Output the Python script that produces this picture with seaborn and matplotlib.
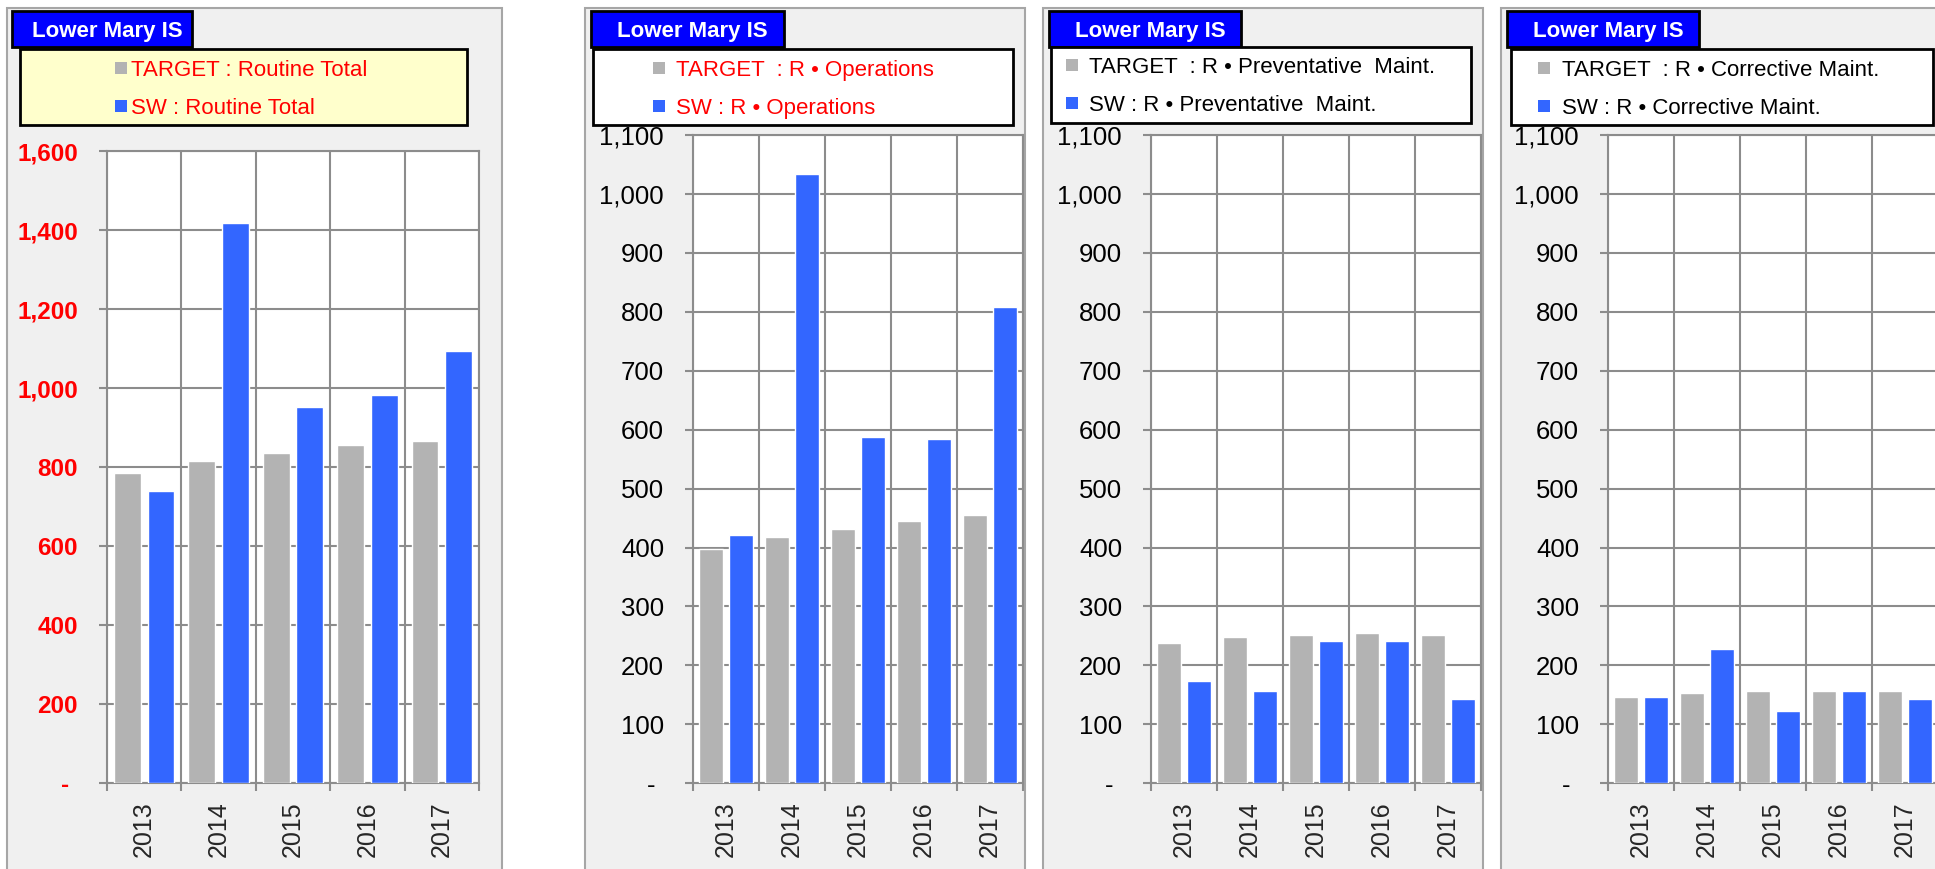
import numpy as np
import pandas as pd
import seaborn as sns
import matplotlib as mpl
from matplotlib import pyplot as plt
from matplotlib.patches import Rectangle
from matplotlib.ticker import FuncFormatter, FixedLocator
from matplotlib.transforms import ScaledTranslation

years = ['2013', '2014', '2015', '2016', '2017']
series_names = ['TARGET', 'SW']

routine_target = [785, 816, 836, 856, 866]
routine_sw = [740, 1417, 953, 982, 1094]
ops_target = [397, 418, 431, 445, 455]
ops_sw = [421, 1034, 587, 584, 808]
prev_target = [238, 248, 252, 255, 252]
prev_sw = [174, 157, 242, 242, 143]
corr_target = [147, 153, 157, 157, 157]
corr_sw = [147, 228, 123, 157, 143]

panel_title = 'Lower Mary IS'
legend_labels = [
    ('TARGET : Routine Total', 'SW : Routine Total'),
    ('TARGET  : R \u2022 Operations', 'SW : R \u2022 Operations'),
    ('TARGET  : R \u2022 Preventative  Maint.', 'SW : R \u2022 Preventative  Maint.'),
    ('TARGET  : R \u2022 Corrective Maint.', 'SW : R \u2022 Corrective Maint.'),
]
values = [(routine_target, routine_sw), (ops_target, ops_sw),
          (prev_target, prev_sw), (corr_target, corr_sw)]

GRAY = '#b3b3b3'
BLUE = '#3366ff'
GRID = '#8c8c8c'

sns.set_style('white')
plt.rcParams['font.family'] = ['Liberation Sans', 'DejaVu Sans']

W, H = 1935, 869
fig = plt.figure(figsize=(W / 100, H / 100), dpi=100)
fig.patch.set_facecolor('white')


def fx(px):
    return px / W


def fy(py):
    return 1 - py / H


def box(x0, y0, x1, y1, fc, ec, lw=1.5, z=0):
    r = Rectangle((fx(x0), fy(y1)), fx(x1) - fx(x0), fy(y0) - fy(y1),
                  transform=fig.transFigure, facecolor=fc, edgecolor=ec,
                  linewidth=lw, zorder=z)
    fig.add_artist(r)


# layout of each panel (pixels): outer box, plot area, title box, legend box
layout = [
    dict(outer=(7, 502), plot=(107, 479, 151), title=(12, 192), leg=(20, 467, 49, 125),
         mark=115, txt=131, rows=(68, 106), ymax=1600, step=200, legbg='#ffffcc',
         legcol='red', tcol='red', bold=True, tsize=17.5),
    dict(outer=(585, 1025), plot=(693, 1023, 135), title=(591, 784), leg=(593, 1013, 49, 125),
         mark=653, txt=676, rows=(68, 106), ymax=1100, step=100, legbg='white',
         legcol='red', tcol='black', bold=False, tsize=18.5),
    dict(outer=(1043, 1483), plot=(1151, 1481, 135), title=(1049, 1241), leg=(1051, 1471, 47, 123),
         mark=1066, txt=1089, rows=(65, 103), ymax=1100, step=100, legbg='white',
         legcol='black', tcol='black', bold=False, tsize=18.5),
    dict(outer=(1501, 1945), plot=(1608, 1938, 135), title=(1507, 1699), leg=(1511, 1933, 49, 125),
         mark=1538, txt=1562, rows=(68, 106), ymax=1100, step=100, legbg='white',
         legcol='black', tcol='black', bold=False, tsize=18.5),
]
zero_y = 783.3

for (tgt, sw), labels, lay in zip(values, legend_labels, layout):
    ox0, ox1 = lay['outer']
    box(ox0, 8, ox1, 880, '#f0f0f0', '#a6a6a6', z=-2)

    px0, px1, ptop = lay['plot']
    ax = fig.add_axes([fx(px0), fy(zero_y), fx(px1) - fx(px0), fy(ptop) - fy(zero_y)])
    ax.set_facecolor('white')

    df = pd.DataFrame({
        'year': years * 2,
        'value': list(tgt) + list(sw),
        'series': [series_names[0]] * len(years) + [series_names[1]] * len(years),
    })
    sns.barplot(data=df, x='year', y='value', hue='series', palette=[GRAY, BLUE],
                width=0.9, gap=0.2, saturation=1, legend=False, ax=ax, zorder=3)
    ax.set_xlabel('')
    ax.set_ylabel('')

    ax.set_xlim(-0.5, len(years) - 0.5)
    ax.set_ylim(0, lay['ymax'])
    ax.xaxis.set_major_locator(FixedLocator(np.arange(len(years) + 1) - 0.5))
    ax.xaxis.set_major_formatter(plt.NullFormatter())
    ax.xaxis.set_minor_locator(FixedLocator(np.arange(len(years))))
    ax.set_xticklabels(years, minor=True, rotation=90, fontsize=18)
    ax.yaxis.set_major_locator(FixedLocator(np.arange(0, lay['ymax'] + 1, lay['step'])))
    ax.yaxis.set_major_formatter(FuncFormatter(lambda v, p: '-' if v == 0 else f'{v:,.0f}'))

    ax.grid(True, which='major', color=GRID, linewidth=1.5)
    ax.set_axisbelow(True)
    for s in ax.spines.values():
        s.set_color(GRID)
        s.set_linewidth(1.5)
        s.set_visible(True)

    ax.tick_params(axis='x', which='major', direction='out', length=5.5, width=1.5,
                   color=GRID, bottom=True)
    ax.tick_params(axis='x', which='minor', length=0, pad=13, bottom=True)
    ax.tick_params(axis='y', which='major', direction='out', length=5.8, width=1.5,
                   color=GRID, pad=15, left=True, labelsize=lay['tsize'],
                   labelcolor=lay['tcol'])
    for lab in ax.get_yticklabels():
        lab.set_fontweight('bold' if lay['bold'] else 'normal')
    # the zero label ("-") sits further left, as in an accounting format
    zt = ax.yaxis.get_major_ticks()[0].label1
    zt.set_transform(zt.get_transform() + ScaledTranslation(-0.09, 0, fig.dpi_scale_trans))

    # title tag
    tx0, tx1 = lay['title']
    box(tx0, 11, tx1, 47, '#0000ff', 'black', lw=2, z=5)
    fig.text(fx((tx0 + tx1) / 2 + 5), fy(29), panel_title, color='white',
             fontsize=16, fontweight='bold', ha='center', va='center_baseline', zorder=6)

    # legend box
    lx0, lx1, ly0, ly1 = lay['leg']
    box(lx0, ly0, lx1, ly1, lay['legbg'], 'black', lw=2, z=5)
    for row_y, col, text in zip(lay['rows'], [GRAY, BLUE], labels):
        box(lay['mark'], row_y - 6, lay['mark'] + 12, row_y + 6, col, 'none', lw=0, z=6)
        fig.text(fx(lay['txt']), fy(row_y), text, color=lay['legcol'], fontsize=16,
                 ha='left', va='center_baseline', zorder=6)

fig.savefig('out.png', dpi=100, facecolor='white')
